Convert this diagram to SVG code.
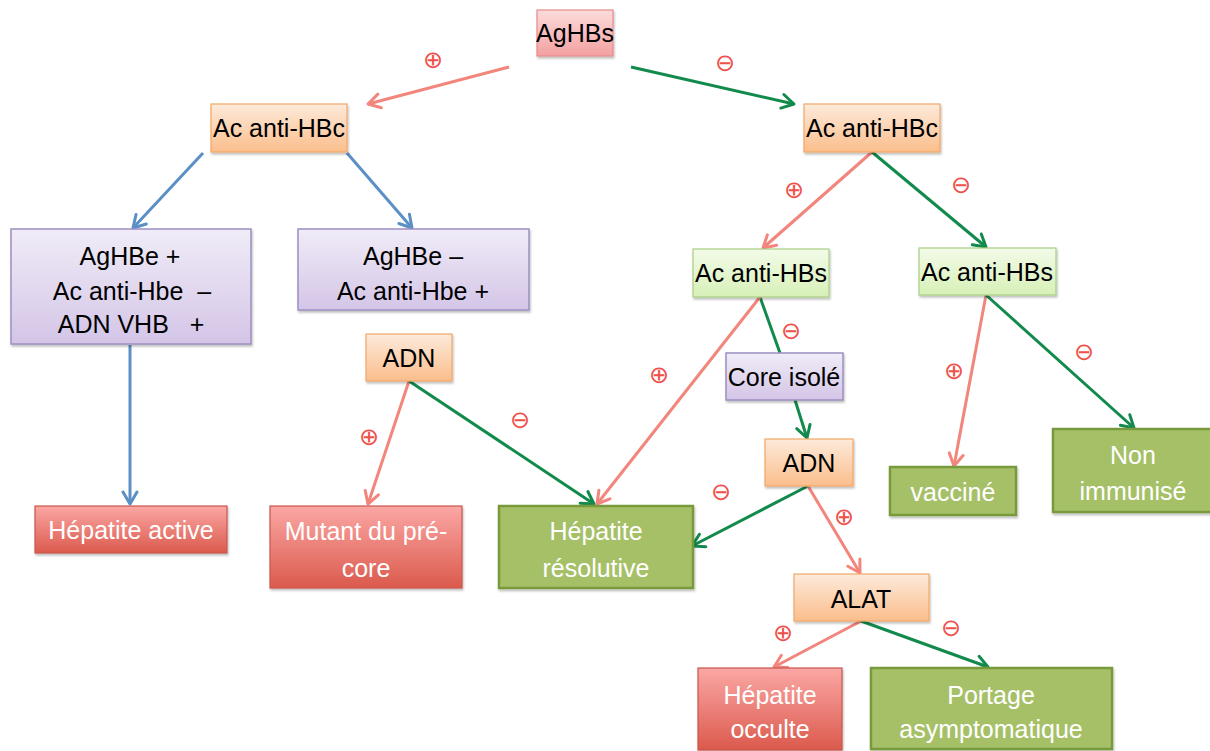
<svg xmlns="http://www.w3.org/2000/svg" width="1210" height="751" viewBox="0 0 1210 751">
<defs>
<linearGradient id="gPink" x1="0" y1="0" x2="0" y2="1"><stop offset="0" stop-color="#fcdcdc"/><stop offset="1" stop-color="#f3a0a0"/></linearGradient>
<linearGradient id="gOrange" x1="0" y1="0" x2="0" y2="1"><stop offset="0" stop-color="#fdeadb"/><stop offset="1" stop-color="#fbbe8c"/></linearGradient>
<linearGradient id="gPurple" x1="0" y1="0" x2="0" y2="1"><stop offset="0" stop-color="#f0ecf7"/><stop offset="1" stop-color="#d4c5e7"/></linearGradient>
<linearGradient id="gLGreen" x1="0" y1="0" x2="0" y2="1"><stop offset="0" stop-color="#f3fbe9"/><stop offset="1" stop-color="#d7f0b7"/></linearGradient>
<linearGradient id="gRed" x1="0" y1="0" x2="0" y2="1"><stop offset="0" stop-color="#fba7a4"/><stop offset="1" stop-color="#db5a4d"/></linearGradient>
<filter id="sh" x="-10%" y="-10%" width="130%" height="140%"><feDropShadow dx="1" dy="2" stdDeviation="1.2" flood-color="#000" flood-opacity="0.25"/></filter>
<marker id="mR" markerUnits="userSpaceOnUse" viewBox="-14 -9 16 18" markerWidth="16" markerHeight="18" refX="0" refY="0" orient="auto"><path d="M-12,-7 L0,0 L-12,7" fill="none" stroke="#f2857c" stroke-width="3" stroke-linecap="round" stroke-linejoin="round"/></marker>
<marker id="mG" markerUnits="userSpaceOnUse" viewBox="-14 -9 16 18" markerWidth="16" markerHeight="18" refX="0" refY="0" orient="auto"><path d="M-12,-7 L0,0 L-12,7" fill="none" stroke="#128a4c" stroke-width="3" stroke-linecap="round" stroke-linejoin="round"/></marker>
<marker id="mB" markerUnits="userSpaceOnUse" viewBox="-14 -9 16 18" markerWidth="16" markerHeight="18" refX="0" refY="0" orient="auto"><path d="M-12,-7 L0,0 L-12,7" fill="none" stroke="#5b8fc6" stroke-width="3" stroke-linecap="round" stroke-linejoin="round"/></marker>
</defs>
<style>
text{font-family:"Liberation Sans","DejaVu Sans",sans-serif;font-size:25px;text-anchor:middle;white-space:pre}
.dk{fill:#000}
.wt{fill:#fff}
.pink{fill:url(#gPink);stroke:#e58c8a;stroke-width:1.2}
.orange{fill:url(#gOrange);stroke:#f2a766;stroke-width:1.2}
.purple{fill:url(#gPurple);stroke:#9d8fc2;stroke-width:1.5}
.lgreen{fill:url(#gLGreen);stroke:#a9cf84;stroke-width:1.2}
.red{fill:url(#gRed);stroke:#c8574d;stroke-width:1.2}
.olive{fill:#a6c067;stroke:#789a3c;stroke-width:2.5}
.box{filter:url(#sh)}
.cr{fill:none;stroke:#f2857c;stroke-width:3}
.cg{fill:none;stroke:#128a4c;stroke-width:3}
.cb{fill:none;stroke:#5b8fc6;stroke-width:3}
.lbl{font-family:"DejaVu Sans",sans-serif;font-size:24px;fill:#f0504a;dominant-baseline:central}
</style>

<g id="connectors">
<line class="cr" x1="509" y1="67" x2="368" y2="104" marker-end="url(#mR)"/>
<line class="cg" x1="631" y1="67" x2="794" y2="104" marker-end="url(#mG)"/>
<line class="cb" x1="203" y1="153" x2="133" y2="228" marker-end="url(#mB)"/>
<line class="cb" x1="347" y1="153" x2="412" y2="228" marker-end="url(#mB)"/>
<line class="cb" x1="130" y1="345" x2="130" y2="504" marker-end="url(#mB)"/>
<line class="cr" x1="872" y1="152" x2="763" y2="248" marker-end="url(#mR)"/>
<line class="cg" x1="872" y1="152" x2="986" y2="247" marker-end="url(#mG)"/>
<line class="cg" x1="760" y1="297" x2="780" y2="353"/>
<line class="cr" x1="760" y1="297" x2="597" y2="504" marker-end="url(#mR)"/>
<line class="cr" x1="986" y1="295" x2="954" y2="466" marker-end="url(#mR)"/>
<line class="cg" x1="986" y1="295" x2="1134" y2="428" marker-end="url(#mG)"/>
<line class="cg" x1="795" y1="400" x2="807" y2="438" marker-end="url(#mG)"/>
<line class="cg" x1="808" y1="486" x2="692" y2="546" marker-end="url(#mG)"/>
<line class="cr" x1="808" y1="486" x2="860" y2="573" marker-end="url(#mR)"/>
<line class="cr" x1="861" y1="621" x2="774" y2="667" marker-end="url(#mR)"/>
<line class="cg" x1="861" y1="621" x2="988" y2="667" marker-end="url(#mG)"/>
<line class="cr" x1="409" y1="381" x2="368" y2="504" marker-end="url(#mR)"/>
<line class="cg" x1="409" y1="381" x2="594" y2="504" marker-end="url(#mG)"/>
<text class="lbl" x="433" y="60">⊕</text>
<text class="lbl" x="725" y="63">⊖</text>
<text class="lbl" x="794" y="190">⊕</text>
<text class="lbl" x="961" y="185">⊖</text>
<text class="lbl" x="791" y="331">⊖</text>
<text class="lbl" x="659" y="375">⊕</text>
<text class="lbl" x="954" y="371">⊕</text>
<text class="lbl" x="1084" y="352">⊖</text>
<text class="lbl" x="721" y="492">⊖</text>
<text class="lbl" x="844" y="517">⊕</text>
<text class="lbl" x="783" y="633">⊕</text>
<text class="lbl" x="951" y="628">⊖</text>
<text class="lbl" x="369" y="437">⊕</text>
<text class="lbl" x="520" y="420">⊖</text>
</g>

<g id="n-aghbs"><rect class="pink box" x="537" y="10" width="76" height="46"/><text class="dk" x="575" y="42">AgHBs</text></g>
<g id="n-antihbc-l"><rect class="orange box" x="211" y="104" width="136" height="48"/><text class="dk" x="279" y="137">Ac anti-HBc</text></g>
<g id="n-antihbc-r"><rect class="orange box" x="804" y="104" width="136" height="48"/><text class="dk" x="872" y="137">Ac anti-HBc</text></g>
<g id="n-aghbe-pos"><rect class="purple box" x="11" y="229" width="240" height="115"/>
<text class="dk" x="130" y="265">AgHBe +</text><text class="dk" x="132" y="300">Ac anti-Hbe  –</text><text class="dk" x="131" y="333">ADN VHB   +</text></g>
<g id="n-aghbe-neg"><rect class="purple box" x="298" y="229" width="231" height="81"/>
<text class="dk" x="413" y="265">AgHBe –</text><text class="dk" x="413" y="300">Ac anti-Hbe +</text></g>
<g id="n-antihbs-l"><rect class="lgreen box" x="693" y="249" width="136" height="48"/><text class="dk" x="761" y="282">Ac anti-HBs</text></g>
<g id="n-antihbs-r"><rect class="lgreen box" x="919" y="248" width="137" height="47"/><text class="dk" x="987" y="281">Ac anti-HBs</text></g>
<g id="n-adn-mid"><rect class="orange box" x="366" y="334" width="86" height="47"/><text class="dk" x="409" y="367">ADN</text></g>
<g id="n-core"><rect class="purple box" x="726" y="353" width="117" height="47"/><text class="dk" x="784" y="386">Core isolé</text></g>
<g id="n-adn-r"><rect class="orange box" x="765" y="439" width="88" height="47"/><text class="dk" x="809" y="472">ADN</text></g>
<g id="n-hep-active"><rect class="red box" x="35" y="506" width="192" height="47"/><text class="wt" x="131" y="539">Hépatite active</text></g>
<g id="n-mutant"><rect class="red box" x="270" y="506" width="192" height="82"/><text class="wt" x="366" y="540">Mutant du pré-</text><text class="wt" x="366" y="577">core</text></g>
<g id="n-hep-res"><rect class="olive box" x="499" y="506" width="194" height="82"/><text class="wt" x="596" y="540">Hépatite</text><text class="wt" x="596" y="577">résolutive</text></g>
<g id="n-vaccine"><rect class="olive box" x="890" y="467" width="126" height="48"/><text class="wt" x="953" y="501">vacciné</text></g>
<g id="n-nonimm"><rect class="olive box" x="1053" y="429" width="160" height="83"/><text class="wt" x="1133" y="464">Non</text><text class="wt" x="1133" y="500">immunisé</text></g>
<g id="n-alat"><rect class="orange box" x="794" y="574" width="135" height="47"/><text class="dk" x="861" y="608">ALAT</text></g>
<g id="n-hep-occ"><rect class="red box" x="698" y="668" width="144" height="82"/><text class="wt" x="770" y="704">Hépatite</text><text class="wt" x="770" y="738">occulte</text></g>
<g id="n-portage"><rect class="olive box" x="871" y="668" width="241" height="81"/><text class="wt" x="991" y="704">Portage</text><text class="wt" x="991" y="738">asymptomatique</text></g>
</svg>
